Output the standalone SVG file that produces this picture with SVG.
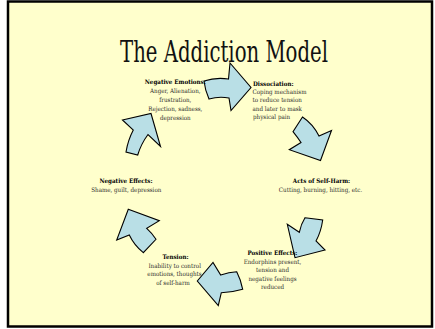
<svg xmlns="http://www.w3.org/2000/svg" width="435" height="329" viewBox="0 0 435 329">
<style>
.bg{fill:#FFFFCC;stroke:#000;stroke-width:2.5}
.arrow{fill:#B9DFE6;stroke:#000;stroke-width:1.1;stroke-linejoin:miter}
.title{font-family:"DejaVu Serif Condensed","DejaVu Serif",serif;font-stretch:condensed;font-size:29px;fill:#111;text-anchor:middle}
.t{font-family:"DejaVu Serif Condensed","DejaVu Serif",serif;font-stretch:condensed;font-size:6.2px;fill:#2a2a2a;text-anchor:middle}
.l{text-anchor:start}
.b{font-weight:bold;fill:#000}
</style>
<rect class="bg" x="8" y="1.5" width="424" height="325"/>
<text class="title" x="224" y="61.5" textLength="208" lengthAdjust="spacingAndGlyphs">The Addiction Model</text>
<g id="connectors">
<path id="a1" class="arrow" d="M204,81 Q216,77 228.5,79 L230,63 L251,87.5 L231,110.5 L229,98 Q219,96 209,99 Q205,90 204,81 Z"/>
<path id="a2" class="arrow" d="M302.5,117 L293,131.7 Q298,138 301,142.5 L289.3,149.7 L320.5,160.5 L331.5,130.5 L319,136 Q313,124 302.5,117 Z"/>
<path id="a3" class="arrow" d="M305,217.7 L322.7,220 Q321,232 316,241 L325,250 L295,257.7 L287.3,224.3 L299.3,232.3 Q301,224 305,217.7 Z"/>
<path id="a4" class="arrow" d="M197.3,281 L213,262.5 L220.7,275 Q229,272 236.7,271.7 Q241,280 242.7,289.3 Q232,292.5 221.3,292.7 L218.3,305.5 Z"/>
<path id="a5" class="arrow" d="M128.3,209.3 L159.3,220.7 L146.7,228.3 Q152,233 156,239.3 L143.3,252.7 Q134,245 129.3,235 L116.7,240 Z"/>
<path id="a6" class="arrow" d="M122.5,120 L151,113.5 L160.5,146.5 L148,134.5 Q141,144 137.7,155 L126,152 Q128,140 133.3,130 Z"/>
</g>
<g id="neg-emotions">
<text class="t b" x="175.3" y="84">Negative Emotions:</text>
<text class="t" x="175.3" y="93">Anger, Alienation,</text>
<text class="t" x="175.3" y="101.7">frustration,</text>
<text class="t" x="175.3" y="110.7">Rejection, sadness,</text>
<text class="t" x="175.3" y="119.5">depression</text>
</g>
<g id="dissociation">
<text class="t b l" x="253" y="86.2">Dissociation:</text>
<text class="t l" x="252.5" y="94">Coping mechanism</text>
<text class="t l" x="252.5" y="102.3">to reduce tension</text>
<text class="t l" x="252.5" y="110.6">and later to mask</text>
<text class="t l" x="253" y="119">physical pain</text>
</g>
<g id="acts">
<text class="t b" x="321.5" y="183.2">Acts of Self-Harm:</text>
<text class="t" x="320.5" y="191.6">Cutting, burning, hitting, etc.</text>
</g>
<g id="positive">
<text class="t b" x="272.5" y="254.5">Positive Effects:</text>
<text class="t" x="272.5" y="264">Endorphins present,</text>
<text class="t" x="272.5" y="272.3">tension and</text>
<text class="t" x="272.5" y="280.5">negative feelings</text>
<text class="t" x="272.5" y="289">reduced</text>
</g>
<g id="tension">
<text class="t b" x="175.5" y="259">Tension:</text>
<text class="t" x="174.7" y="268">Inability to control</text>
<text class="t" x="174.5" y="276">emotions, thoughts</text>
<text class="t" x="173" y="284.5">of self-harm</text>
</g>
<g id="neg-effects">
<text class="t b" x="126" y="182.5">Negative Effects:</text>
<text class="t" x="126.3" y="191.8">Shame, guilt, depression</text>
</g>
</svg>
